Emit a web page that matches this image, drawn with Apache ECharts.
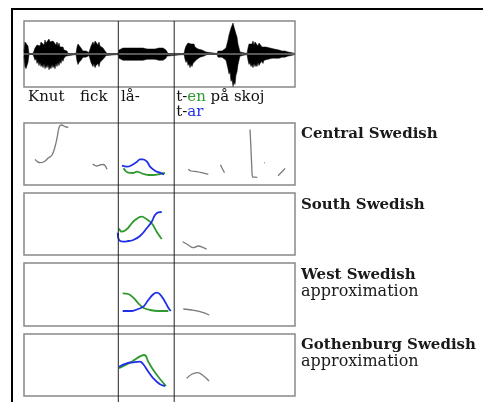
<!DOCTYPE html>
<html><head><meta charset="utf-8">
<script src="https://cdn.jsdelivr.net/npm/echarts@6/dist/echarts.min.js"></script>
<style>html,body{margin:0;padding:0;background:#fff}#c{width:483px;height:402px}</style>
</head><body><div id="c"></div><script>
// time axis units 0..271 ; waveform amplitude envelope [time, amplitude]
const waveform = [[0,2],[1,12],[2,14],[3,11],[4,8],[5,0.5],
 [9,0.5],[10,3],[11,6],[12,4],[13,9],[14,7],[15,11],[16,8],[17,12],[18,10],[19,13],[20,9],[21,14],[22,11],[23,13],[24,10],[25,15],[26,12],[27,14],[28,10],[29,13],[30,11],[31,14],[32,9],[33,12],[34,8],[35,11],[36,7],[37,9],[38,5],[39,7],[40,4],[41,5],[42,2],[43,3],[44,0.5],
 [52,0.5],[53,7],[54,10],[55,8],[56,9],[57,6],[58,5],[59,3],[60,4],[61,2],[62,3],[63,1.5],[64,2],[65,1.5],
 [66,3],[67,8],[68,10],[69,12],[70,9],[71,13],[72,11],[73,12],[74,9],[75,12],[76,8],[77,9],[78,6],[79,6],[80,4],[81,3],[82,1.5],[83,0.5],
 [94,0.5],[95,4],[96,5],[97,4],[99,6],[101,5],[103,6],[105,5],[107,6],[109,5],[111,6],[113,5],[115,6],[117,5],[119,6],[121,6],[123,5],[125,6],[127,5],[129,6],[131,5],[133,6],[135,6],[137,7],[139,6],[141,5],[142,4],[143,2],[144,0.5],
 [160,0.5],[161,5],[162,8],[163,6],[164,11],[165,9],[166,13],[167,10],[168,12],[169,9],[170,10],[171,7],[172,8],[173,5],[174,5],[176,3],[178,4],[180,2],[182,2],[183,0.5],
 [193,0.5],[194,3],[196,4],[198,3],[200,4],[202,6],[203,10],[204,14],[205,19],[206,17],[207,26],[208,24],[209,31],[210,27],[211,29],[212,20],[213,17],[214,10],[215,6],[216,2],[217,0.5],
 [223,0.5],[224,6],[225,10],[226,8],[227,12],[228,10],[229,13],[230,9],[231,12],[232,10],[233,12],[234,8],[235,11],[236,9],[237,10],[238,7],[239,9],[240,6],[242,7],[244,5],[246,6],[248,4],[250,5],[252,4],[255,4],[258,3],[261,3],[264,2],[267,1.5],[271,0.5]];
const dividerTimes = [94.3, 150.2];

// Words under the waveform
const words = ['Knut', 'fick', 'lå-'];
const wordTimes = [4, 56, 97];

// Panel 1: Central Swedish
const centralGray = [
  [[11,25.7],[16,22.3],[20,23.3],[24,26.7],[28,30],[31,38.3],[33.3,48.3],[35.3,58.3],[37.7,60],[41,58.3],[44.3,57.7]],
  [[68.7,21],[71,19.5],[73,19],[76,20],[79,20.5],[81,19.5],[83,15.7]],
  [[164.3,15.7],[167,14],[172.7,13.3],[177.7,12.3],[184.3,10.7]],
  [[196.5,20.3],[198,17],[200.5,12.3]],
  [[226,55.5],[226.8,40],[227.7,20],[228.7,8],[231,7.8],[233.3,7.7]],
  [[240,22.3],[240.8,22]],
  [[254,9.3],[257.5,12.7],[261,16.7]]
];
const centralBlue = [[98,19.3],[103,18.3],[108,20],[113,23.3],[116,25.7],[119,25.7],[123,23.3],[126,18.3],[131,14.3],[136,12.3],[140,10.7]];
const centralGreen = [[99.5,16.7],[104.3,12.3],[109.3,12],[113,13.3],[116,12.5],[119.3,11],[124.3,10],[129.3,10],[136,11],[141,12]];

// Panel 2: South Swedish
const southGray = [[[158.7,13.3],[164.3,10],[169.3,7.3],[174.3,9],[178.7,7.7],[182.7,5.7]]];
const southBlue = [[93.7,22.3],[95,15],[99.3,13.3],[104.3,14],[109.3,15],[116,19],[122.7,26.7],[127.7,33.3],[131,40],[134.3,42.7],[137.7,43]];
const southGreen = [[95,26.7],[97.7,23.3],[102.7,25.7],[107.7,31.7],[111,35],[117.7,38.3],[122.7,35.7],[127.7,31.7],[132.7,23.3],[137.7,16]];

// Panel 3: West Swedish
const westGray = [[[159.3,17],[167.7,16],[176,14.3],[185.3,11]]];
const westBlue = [[98.7,15],[107.7,15],[114.3,17],[119.3,19.3],[124.3,26],[129.3,31.7],[132.7,33.3],[136,31.7],[140,26],[144.3,18.3],[146.7,15]];
const westGreen = [[98.7,32.7],[104.3,32],[109.3,28.3],[114.3,22.7],[119.3,18.3],[126,16],[134.3,15],[144.3,15]];

// Panel 4: Gothenburg Swedish
const gothGray = [[[162.7,17.7],[167.7,21.7],[173.3,23.3],[179.3,20.3],[185,15]]];
const gothBlue = [[95,29.3],[102.7,32.7],[109.3,33.7],[116,34.3],[119.3,31.7],[124.3,24.3],[129.3,17.7],[136,11.7],[141,10]];
const gothGreen = [[95,27.7],[107.7,34.3],[120.3,41],[124.3,34.3],[129.3,26],[136,17],[142,10]];

const panelNames = ['Central Swedish', 'South Swedish', 'West Swedish', 'Gothenburg Swedish'];
const panelSubs = ['', '', 'approximation', 'approximation'];

const BLUE = '#1f2fe8', GREEN = '#2e9a2e', GRAY = '#7a7a7a';
const SERIF = '"DejaVu Serif", "Liberation Serif", serif';

const panelTops = [123, 193, 263, 334];
const panelHeights = [62, 62, 63, 62];
const L = 24, W = 271;

const grids = [{left:L, top:21, width:W, height:66, show:true, borderColor:'#888', borderWidth:1.5, backgroundColor:'transparent'}];
panelTops.forEach((t,i)=>grids.push({left:L, top:t, width:W, height:panelHeights[i], show:true, borderColor:'#888', borderWidth:1.5, backgroundColor:'transparent'}));
grids.push({left:L, top:21, width:W, height:381, show:false});

const xAxes = grids.map((g,i)=>({type:'value', gridIndex:i, min:0, max:271, show:false}));
const yAxes = [{type:'value', gridIndex:0, min:-33, max:33, show:false}];
panelHeights.forEach((h,i)=>yAxes.push({type:'value', gridIndex:i+1, min:0, max:h, show:false}));
yAxes.push({type:'value', gridIndex:5, min:0, max:1, show:false});

const series = [];
function line(idx, data, color, width){
  series.push({type:'line', xAxisIndex:idx, yAxisIndex:idx, data:data, symbol:'none', smooth:0.4,
    lineStyle:{color:color, width:width}, itemStyle:{color:color}, silent:true, animation:false});
}
// waveform midline
series.push({type:'line', xAxisIndex:0, yAxisIndex:0, data:[[0,0],[271,0]], symbol:'none',
  lineStyle:{color:'#b0b0b0', width:1}, silent:true, animation:false});
series.push({type:'line', xAxisIndex:0, yAxisIndex:0, data:waveform.map(p=>[p[0],p[1]]), symbol:'none',
  lineStyle:{color:'#000', width:0.5}, areaStyle:{color:'#000', opacity:1}, silent:true, animation:false});
series.push({type:'line', xAxisIndex:0, yAxisIndex:0, data:waveform.map(p=>[p[0],-p[1]*1.05]), symbol:'none',
  lineStyle:{color:'#000', width:0.5}, areaStyle:{color:'#000', opacity:1}, silent:true, animation:false});

const panels = [
  [centralGray, centralBlue, centralGreen],
  [southGray, southBlue, southGreen],
  [westGray, westBlue, westGreen],
  [gothGray, gothBlue, gothGreen]
];
panels.forEach((p,i)=>{
  p[0].forEach(seg=>line(i+1, seg, GRAY, 1.3));
  line(i+1, p[2], GREEN, 1.8);
  line(i+1, p[1], BLUE, 1.8);
});
dividerTimes.forEach(t=>{
  series.push({type:'line', xAxisIndex:5, yAxisIndex:5, data:[[t,0],[t,1]], symbol:'none',
    lineStyle:{color:'#222', width:1}, silent:true, animation:false});
});

const graphic = [
  {type:'rect', shape:{x:12, y:9, width:700, height:700}, style:{fill:'none', stroke:'#000', lineWidth:2}, silent:true}
];
const row1Y = 97, row2Y = 112;
words.forEach((w,i)=>{
  graphic.push({type:'text', x: L + wordTimes[i], y: row1Y, style:{text:w, font:'15px '+SERIF, fill:'#111', verticalAlign:'middle'}});
});
graphic.push({type:'text', x: L + dividerTimes[1] + 2, y: row1Y, style:{text:'t-{g|en} på skoj', font:'15px '+SERIF, fill:'#111', verticalAlign:'middle',
  rich:{g:{fill:GREEN, font:'15px '+SERIF}}}});
graphic.push({type:'text', x: L + dividerTimes[1] + 2, y: row2Y, style:{text:'t-{b|ar}', font:'15px '+SERIF, fill:'#111', verticalAlign:'middle',
  rich:{b:{fill:BLUE, font:'15px '+SERIF}}}});
const nameY = [134, 205, 275, 345];
panelNames.forEach((n,i)=>{
  graphic.push({type:'text', x:301, y:nameY[i], style:{text:n, font:'bold 15px '+SERIF, fill:'#1a1a1a', verticalAlign:'middle'}});
  if (panelSubs[i]) graphic.push({type:'text', x:301, y:nameY[i]+17, style:{text:panelSubs[i], font:'16px '+SERIF, fill:'#1a1a1a', verticalAlign:'middle'}});
});

const chart = echarts.init(document.getElementById('c'), null, {renderer:'canvas'});
chart.setOption({animation:false, backgroundColor:'#fff', grid:grids, xAxis:xAxes, yAxis:yAxes, series:series, graphic:graphic});
</script></body></html>
